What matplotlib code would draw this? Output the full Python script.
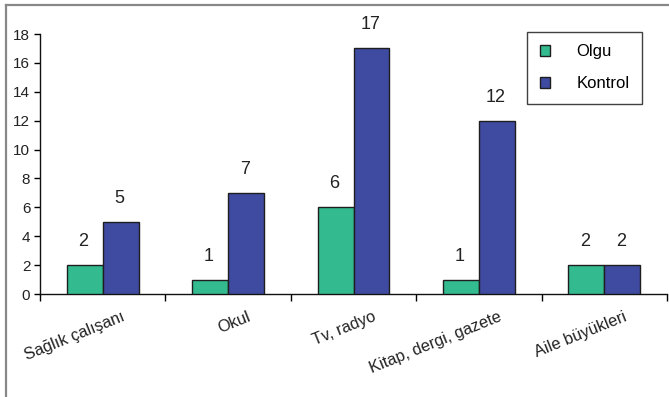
import numpy as np
import matplotlib
matplotlib.use("Agg")
import matplotlib.pyplot as plt
from matplotlib.patches import Patch
from matplotlib.lines import Line2D
from matplotlib.transforms import ScaledTranslation

plt.rcParams["font.family"] = ["Liberation Sans", "DejaVu Sans"]

categories = ["Sağlık çalışanı", "Okul", "Tv, radyo", "Kitap, dergi, gazete", "Aile büyükleri"]
olgu = [2, 1, 6, 1, 2]
kontrol = [5, 7, 17, 12, 2]
y_ticks = list(range(0, 19, 2))

GREEN = "#33bb8f"
BLUE = "#3f4aa1"
EDGE = "#1e1e1e"


def main():

    fig = plt.figure(figsize=(6.69, 3.97), dpi=100)
    ax = fig.add_axes([40 / 669, 103 / 397, 627 / 669, 260 / 397])

    x = np.arange(len(categories))
    w = 0.287

    bars_o = ax.bar(x - w / 2, olgu, w, color=GREEN, edgecolor=EDGE, linewidth=1.0, zorder=3)
    bars_k = ax.bar(x + w / 2, kontrol, w, color=BLUE, edgecolor=EDGE, linewidth=1.0, zorder=3)

    # value labels above each bar
    for bars, vals in ((bars_o, olgu), (bars_k, kontrol)):
        for b, v in zip(bars, vals):
            ax.annotate(
                str(v),
                (b.get_x() + b.get_width() / 2 - 0.01, v),
                xytext=(0, 15),
                textcoords="offset pixels",
                ha="center",
                va="bottom",
                fontsize=13,
                color="#222222",
                annotation_clip=False,
            )

    ax.set_xlim(-0.5, len(categories) - 0.5)
    ax.set_ylim(0, 18)

    for side in ("top", "right"):
        ax.spines[side].set_visible(False)
    for side in ("left", "bottom"):
        ax.spines[side].set_linewidth(1.0)
        ax.spines[side].set_color("#111111")

    ax.set_yticks(y_ticks)
    ax.tick_params(axis="y", length=4, width=1.0, pad=3, labelsize=11, labelcolor="#222222")

    # category boundaries get the tick marks, labels sit at the centres
    ax.set_xticks(np.arange(-0.5, len(categories), 1.0), minor=True)
    ax.set_xticks(x)
    ax.tick_params(axis="x", which="minor", length=5, width=1.0, direction="out")
    ax.tick_params(axis="x", which="major", length=0, pad=11)
    labels = ax.set_xticklabels(categories, rotation=22, ha="right", va="top",
                                rotation_mode="anchor", fontsize=11.8, color="#222222")
    offset = ScaledTranslation(0.19, 0, fig.dpi_scale_trans)
    for lbl in labels:
        lbl.set_transform(lbl.get_transform() + offset)

    handles = [
        Patch(facecolor=GREEN, edgecolor=EDGE, linewidth=1.0, label="Olgu"),
        Patch(facecolor=BLUE, edgecolor=EDGE, linewidth=1.0, label="Kontrol"),
    ]
    leg = ax.legend(
        handles=handles,
        loc="upper left",
        bbox_to_anchor=(527 / 669, 1 - 32 / 397),
        bbox_transform=fig.transFigure,
        fontsize=12,
        frameon=True,
        fancybox=False,
        borderpad=0.75,
        labelspacing=1.0,
        handlelength=0.6,
        handleheight=0.6,
        handletextpad=1.6,
        borderaxespad=0,
    )
    leg.get_frame().set_edgecolor("#111111")
    leg.get_frame().set_linewidth(1.0)

    # grey frame around the picture
    fig.add_artist(Line2D([6 / 669, 6 / 669], [0, 1 - 5 / 397], color="#888888", linewidth=1.6))
    fig.add_artist(Line2D([6 / 669, 1], [1 - 5 / 397, 1 - 5 / 397], color="#888888", linewidth=1.6))

    fig.savefig("out.png", dpi=100)


if __name__ == "__main__":
    main()
